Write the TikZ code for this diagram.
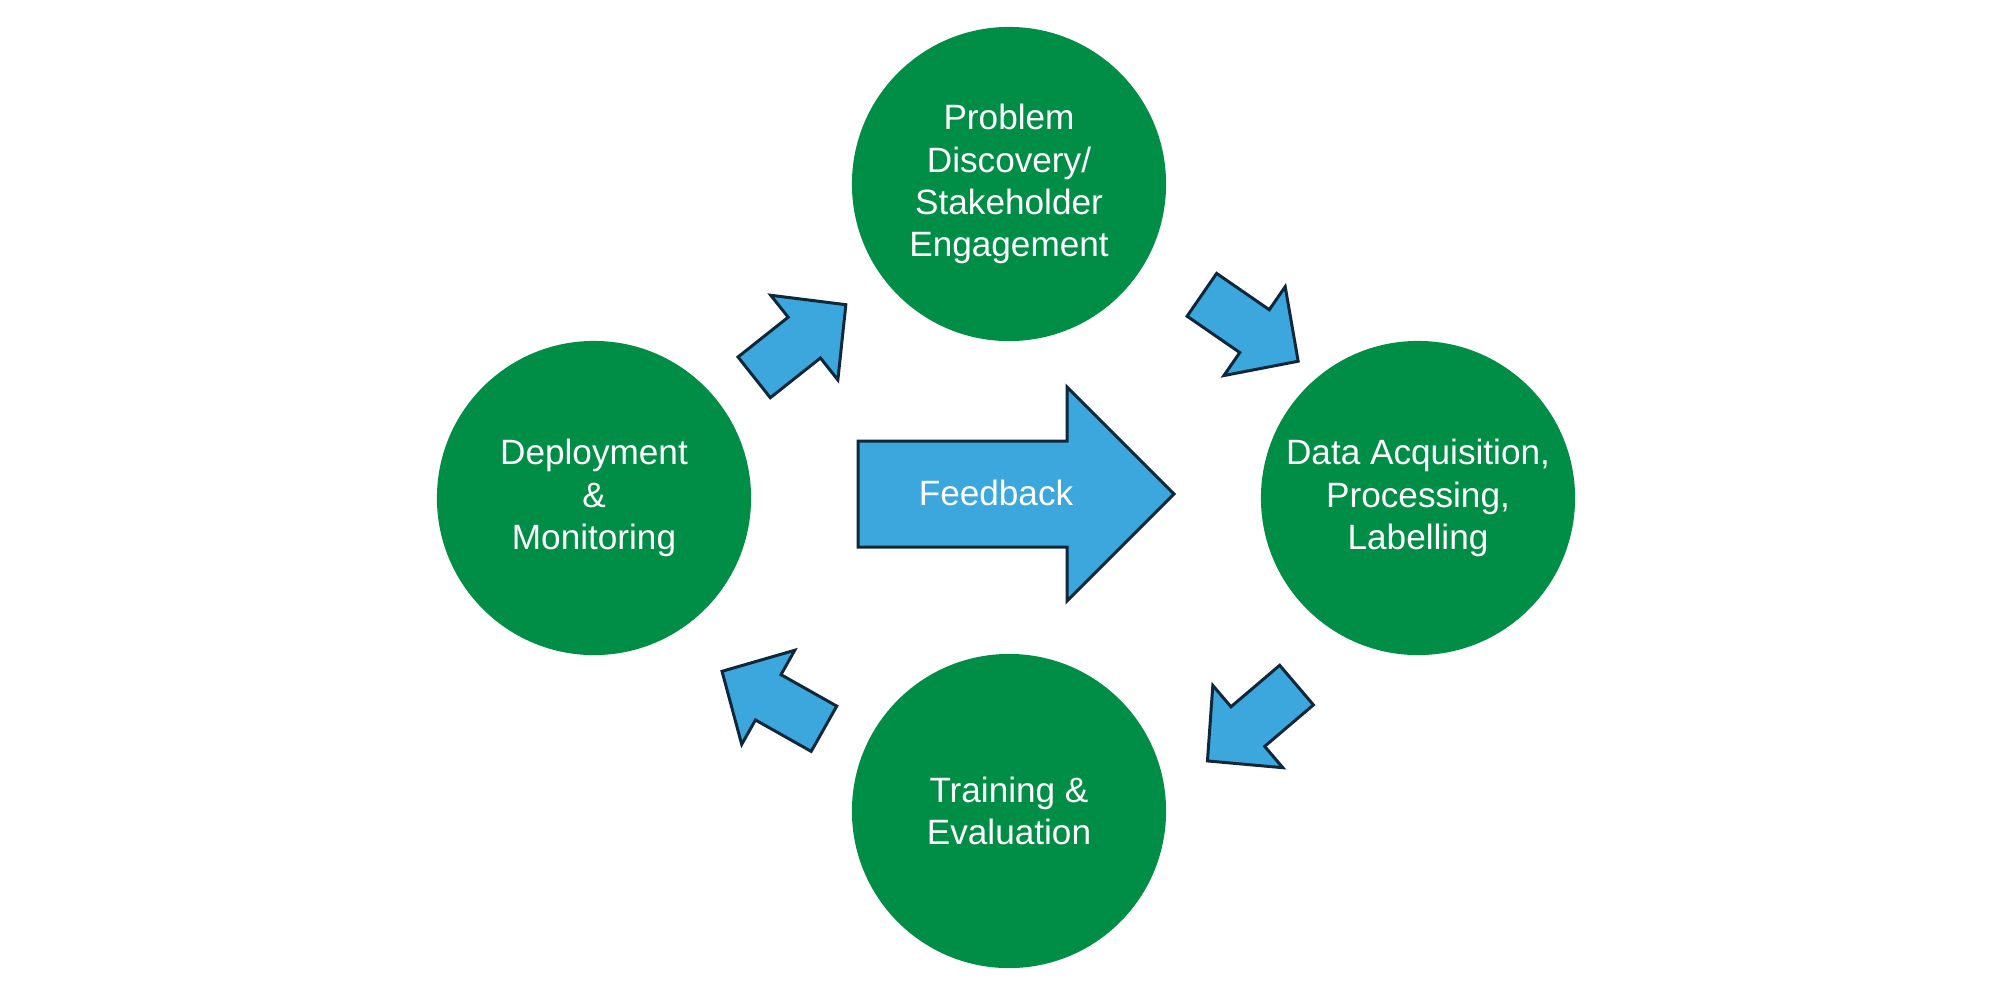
\documentclass[tikz,border=0pt]{standalone}
\usepackage{fontspec}
\setmainfont{Liberation Sans}
\usepackage{xcolor}
\usetikzlibrary{calc}

\definecolor{stagegreen}{RGB}{0,142,70}
\definecolor{arrowblue}{RGB}{60,167,220}
\definecolor{arrowline}{RGB}{14,40,58}

\begin{document}
\begin{tikzpicture}[x=0.01cm,y=-0.01cm,
	stage/.style={circle,fill=stagegreen,minimum size=3.14cm,inner sep=0pt,text=white,align=center,font=\fontsize{10}{12}\selectfont},
	blockarrow/.style={fill=arrowblue,draw=arrowline,line width=0.85pt,line join=miter}]
	\useasboundingbox (0,0) rectangle (2012,996);
	
	% stages
	\node[stage] (disc) at (1009,184) {Problem\\Discovery/\\Stakeholder\\Engagement};
	\node[stage] (data) at (1418,498) {Data Acquisition,\\Processing,\\Labelling};
	\node[stage] (train) at (1009,811) {Training \&\\Evaluation};
	\node[stage] (deploy) at (594,498) {Deployment\\\&\\Monitoring};
	
	% small arrows round the cycle
	\coordinate (a1) at (800,341);
	\coordinate (a2) at (1250,328);
	\coordinate (a3) at (1252,723);
	\coordinate (a4) at (773,700);
	\foreach \c/\a in {a1/38.4,a2/-34.6,a3/220.4,a4/150.6}
		\draw[blockarrow,shift={(\c)},rotate=\a] (-58.5,-26) -- (5.5,-26) -- (5.5,-54) -- (58.5,0) -- (5.5,54) -- (5.5,26) -- (-58.5,26) -- cycle;
	
	% feedback arrow
	\draw[blockarrow] (858,441) -- (1067,441) -- (1067,387) -- (1174,494) -- (1067,601) -- (1067,547) -- (858,547) -- cycle;
	\node[text=white,font=\fontsize{10}{12}\selectfont] (fb) at (996,493) {Feedback};
\end{tikzpicture}
\end{document}
